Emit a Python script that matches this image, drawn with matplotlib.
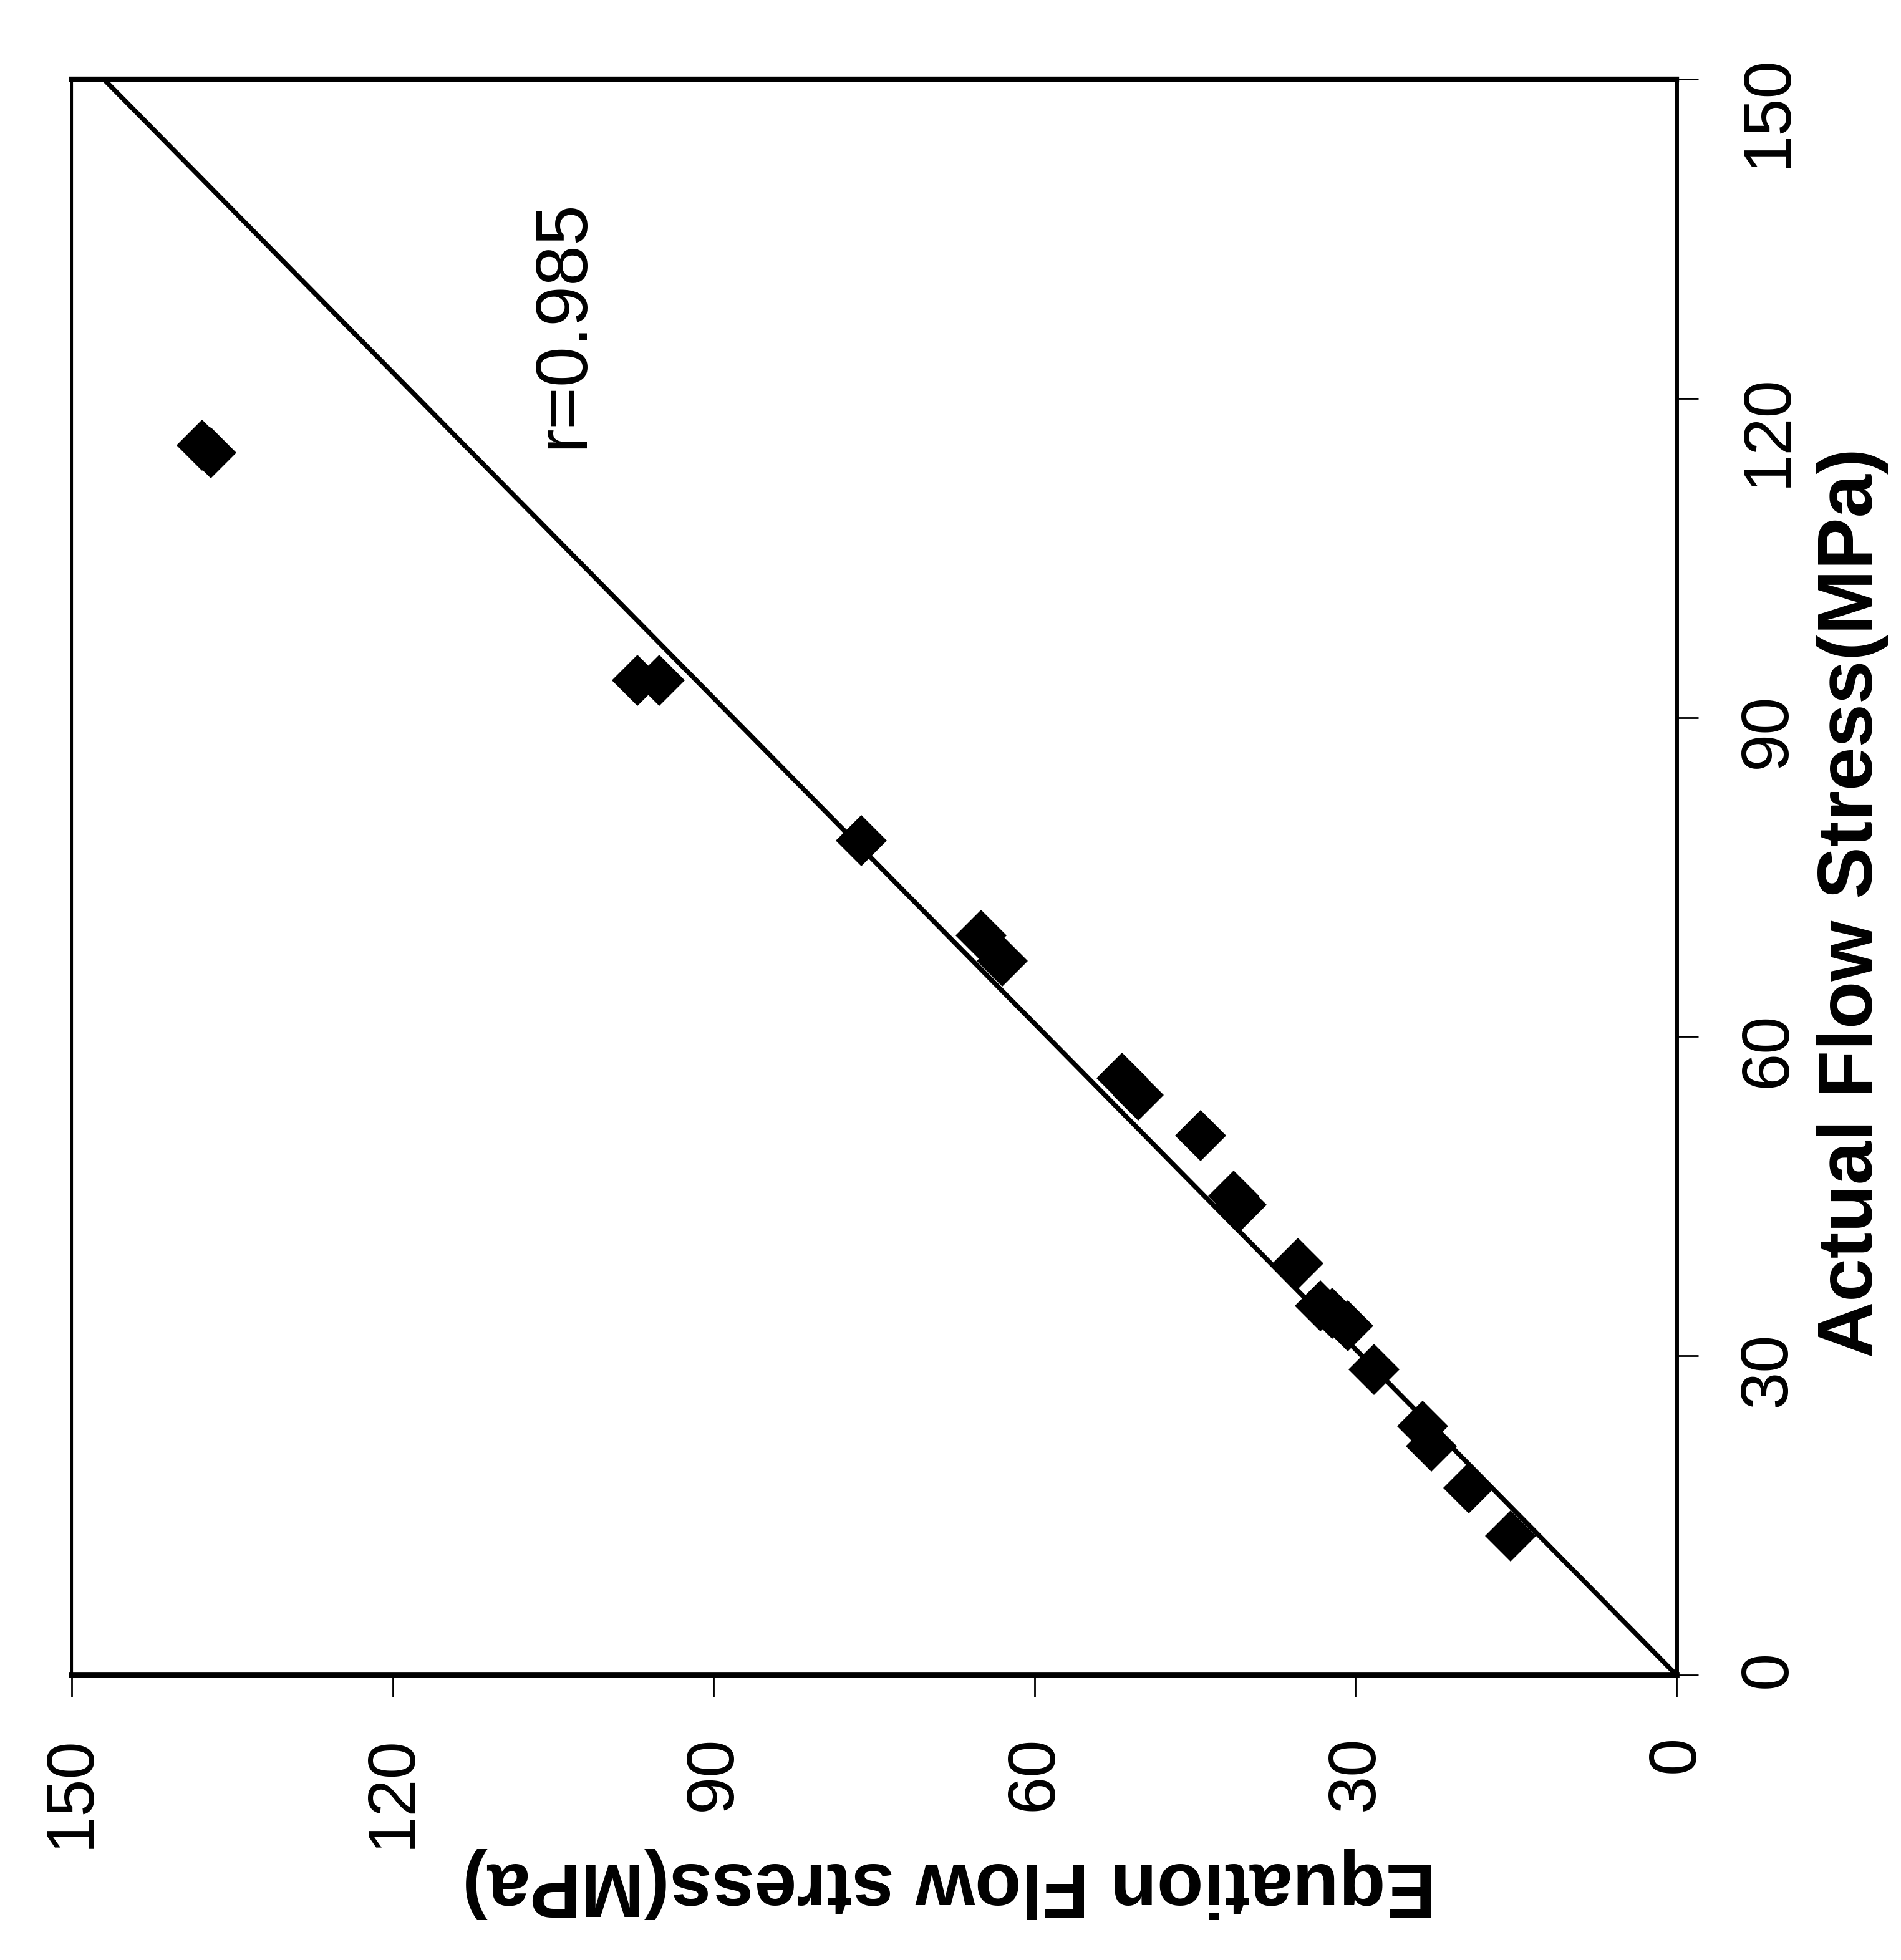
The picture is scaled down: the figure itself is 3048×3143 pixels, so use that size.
import matplotlib
matplotlib.use("Agg")
import matplotlib.pyplot as plt

plt.rcParams["font.family"] = ["Liberation Sans", "DejaVu Sans"]

# measured values (MPa): actual on the vertical axis, equation on the horizontal one
actual_stress = [115.6, 114.9, 93.5, 93.5, 78.4, 69.5, 67.1, 56.1, 54.5, 50.7,
                 45.0, 44.2, 38.7, 34.7, 34.0, 32.8, 28.7, 23.4, 21.5, 17.6, 13.1]
equation_stress = [137.8, 137.0, 97.1, 95.1, 76.2, 65.0, 63.0, 51.8, 50.3, 44.5,
                   41.4, 40.7, 35.4, 33.3, 32.2, 30.7, 28.3, 23.7, 22.9, 19.4, 15.5]

fit_actual = [0, 150]
fit_equation = [0, 147]

ticks = [0, 30, 60, 90, 120, 150]
r_text = "r=0.985"

fig = plt.figure(figsize=(30.48, 31.43), dpi=100)
ax = fig.add_axes([0.0377, 0.1454, 0.8442, 0.8142])

ax.plot(fit_equation, fit_actual, color="black", linewidth=5.5, zorder=2)
ax.plot(equation_stress, actual_stress, linestyle="none", marker="D",
        markersize=42, color="black", markeredgewidth=0, zorder=3)

ax.set_xlim(150, 0)
ax.set_ylim(0, 150)
ax.set_xticks(ticks)
ax.set_yticks(ticks)

ax.yaxis.tick_right()
ax.tick_params(axis="both", direction="out", length=25, width=2, pad=45,
               labelsize=78, labelrotation=90)
ax.tick_params(axis="y", left=False, right=True)

ax.spines["bottom"].set_linewidth(7)
ax.spines["top"].set_linewidth(6)
ax.spines["right"].set_linewidth(5)
ax.spines["left"].set_linewidth(3)

ax.set_xlabel("Equation Flow stress(MPa)", fontsize=88, fontweight="bold",
              rotation=180)
ax.xaxis.set_label_coords(0.547, -0.1305)
ax.xaxis.label.set_va("center")
ax.xaxis.label.set_ha("center")

ax.yaxis.set_label_position("right")
ax.set_ylabel("Actual Flow Stress(MPa)", fontsize=90, fontweight="bold",
              rotation=90)
ax.yaxis.set_label_coords(1.1096, 0.484)
ax.yaxis.label.set_va("center")
ax.yaxis.label.set_ha("center")

ax.text(104, 127, r_text, fontsize=84, rotation=90, ha="center", va="center")

fig.savefig("out.png", dpi=100, facecolor="white")
